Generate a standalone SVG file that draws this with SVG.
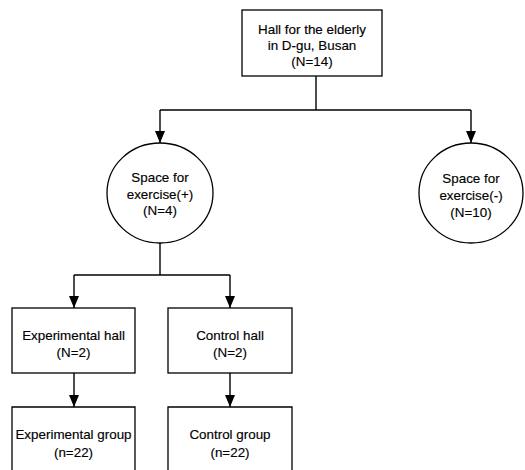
<svg xmlns="http://www.w3.org/2000/svg" width="525" height="470" viewBox="0 0 525 470">
<style>
.n{fill:#fff;stroke:#000;stroke-width:1.3}
.c{fill:none;stroke:#000;stroke-width:1.4}
text{font-family:"Liberation Sans",Arial,sans-serif;font-size:13.4px;fill:#000;stroke:#000;stroke-width:0.15;text-anchor:middle}
</style>
<defs>
<marker id="ah" markerWidth="12" markerHeight="10" refX="12" refY="5" orient="auto" markerUnits="userSpaceOnUse" viewBox="0 0 12 10">
<path d="M0,0 L12,5 L0,10 Z" fill="#000"/>
</marker>
</defs>
<rect width="525" height="470" fill="#fff"/>
<g id="connectors">
<polyline class="c" points="316,76 316,110"/>
<polyline class="c" points="160,110 471,110"/>
<line class="c" x1="160" y1="110" x2="160" y2="143" marker-end="url(#ah)"/>
<line class="c" x1="471" y1="110" x2="471" y2="143" marker-end="url(#ah)"/>
<polyline class="c" points="160,243 160,275"/>
<polyline class="c" points="74,275 230,275"/>
<line class="c" x1="74" y1="275" x2="74" y2="308" marker-end="url(#ah)"/>
<line class="c" x1="230" y1="275" x2="230" y2="308" marker-end="url(#ah)"/>
<line class="c" x1="74" y1="373" x2="74" y2="407" marker-end="url(#ah)"/>
<line class="c" x1="230" y1="373" x2="230" y2="407" marker-end="url(#ah)"/>
</g>
<g id="hall">
<rect class="n" x="242" y="10" width="140" height="66"/>
<text x="312" y="34">Hall for the elderly</text>
<text x="312" y="50">in D-gu, Busan</text>
<text x="312" y="66">(N=14)</text>
</g>
<g id="space-plus">
<ellipse class="n" cx="160" cy="193" rx="53" ry="50"/>
<text x="160" y="182">Space for</text>
<text x="160" y="199">exercise(+)</text>
<text x="160" y="215">(N=4)</text>
</g>
<g id="space-minus">
<ellipse class="n" cx="471" cy="193" rx="52" ry="50"/>
<text x="471" y="183">Space for</text>
<text x="471" y="200">exercise(-)</text>
<text x="471" y="217">(N=10)</text>
</g>
<g id="exp-hall">
<rect class="n" x="12" y="308" width="123" height="65"/>
<text x="73.5" y="340">Experimental hall</text>
<text x="73.5" y="357">(N=2)</text>
</g>
<g id="ctrl-hall">
<rect class="n" x="168" y="308" width="124" height="65"/>
<text x="230" y="340">Control hall</text>
<text x="230" y="357">(N=2)</text>
</g>
<g id="exp-group">
<path class="n" d="M12,472 L12,407 L135,407 L135,472"/>
<text x="73.5" y="439">Experimental group</text>
<text x="73.5" y="457">(n=22)</text>
</g>
<g id="ctrl-group">
<path class="n" d="M168,472 L168,407 L292,407 L292,472"/>
<text x="230" y="439">Control group</text>
<text x="230" y="457">(n=22)</text>
</g>
</svg>
